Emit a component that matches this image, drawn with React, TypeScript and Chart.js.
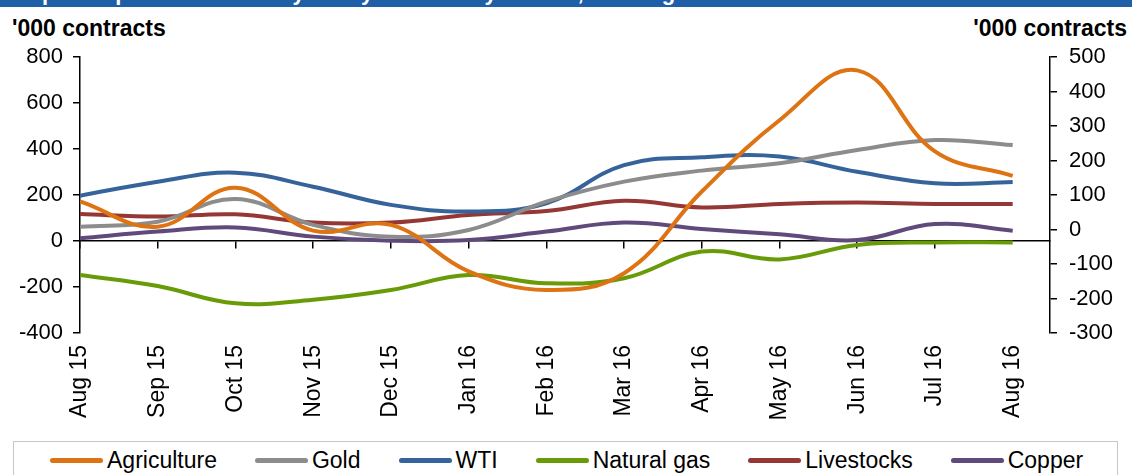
import React, { useEffect, useRef } from "react";
import { Chart, registerables } from "chart.js";

Chart.register(...registerables);

const months = ["Aug 15", "Sep 15", "Oct 15", "Nov 15", "Dec 15", "Jan 16", "Feb 16", "Mar 16", "Apr 16", "May 16", "Jun 16", "Jul 16", "Aug 16"];
const agriculture = [172, 62, 232, 45, 70, -132, -213, -140, 215, 525, 742, 390, 283];
const gold = [62, 84, 183, 70, 19, 48, 171, 258, 306, 338, 396, 439, 417];
const wti = [197, 258, 297, 236, 157, 128, 164, 330, 364, 367, 301, 251, 256];
const naturalGas = [-148, -196, -271, -255, -213, -148, -184, -162, -46, -80, -17, -6, -6];
const livestocks = [117, 106, 116, 80, 80, 113, 130, 175, 146, 161, 167, 161, 161];
const copper = [12, 41, 59, 19, 1, 4, 41, 80, 52, 29, 4, 74, 45];

const leftTicks = { min: -400, max: 800, step: 200 };
const rightTicks = { min: -300, max: 500, step: 100 };

const seriesNames = ["Agriculture", "Gold", "WTI", "Natural gas", "Livestocks", "Copper"];
const seriesColors = ["#DD7313", "#8C8C8C", "#36639A", "#699A08", "#953735", "#604A7B"];
const seriesValues = [agriculture, gold, wti, naturalGas, livestocks, copper];

const FONT = "'Liberation Sans', Arial, sans-serif";
const X_MAX = 12.48;

export default function App() {
  const ref = useRef<HTMLCanvasElement | null>(null);

  useEffect(() => {
    if (!ref.current) return;
    const intTicks = (s: any) => {
      s.ticks = s.ticks.filter((t: any) => Number.isInteger(t.value) && t.value >= 0 && t.value < months.length);
    };
    const chart = new Chart(ref.current, {
      type: "line",
      data: {
        datasets: seriesNames.map((name, i) => ({
          label: name,
          data: seriesValues[i].map((v, j) => ({ x: j, y: v })),
          borderColor: seriesColors[i],
          backgroundColor: seriesColors[i],
          borderWidth: 4,
          pointRadius: 0,
          tension: 0.4,
          fill: false,
          xAxisID: "x",
          yAxisID: "y",
        })),
      },
      options: {
        animation: false,
        responsive: false,
        maintainAspectRatio: false,
        layout: { padding: { top: 57, left: 0, right: 0, bottom: 0 } },
        plugins: { legend: { display: false }, tooltip: { enabled: false }, title: { display: false } },
        scales: {
          x: {
            type: "linear",
            min: 0,
            max: X_MAX,
            position: "bottom",
            afterBuildTicks: intTicks,
            afterFit: (s: any) => { s.height = 107; },
            grid: { display: false, drawTicks: false },
            border: { display: false },
            ticks: {
              stepSize: 1,
              autoSkip: false,
              minRotation: 90,
              maxRotation: 90,
              padding: 12,
              color: "#000",
              font: { family: FONT, size: 23 },
              callback: (v: any) => months[v as number] ?? "",
            },
          },
          x0: {
            type: "linear",
            axis: "x",
            min: 0,
            max: X_MAX,
            position: { y: 0 } as any,
            afterBuildTicks: intTicks,
            grid: { display: true, drawOnChartArea: false, drawTicks: true, tickLength: 7, color: "#000", lineWidth: 1.5 },
            border: { display: true, color: "#000", width: 1.5 },
            ticks: { display: false, stepSize: 1 },
          },
          y: {
            type: "linear",
            position: "left",
            min: leftTicks.min,
            max: leftTicks.max,
            afterFit: (s: any) => { s.width = 80; },
            grid: { display: true, drawOnChartArea: false, drawTicks: true, tickLength: 7, color: "#000", lineWidth: 1.5 },
            border: { display: true, color: "#000", width: 1.5 },
            ticks: { stepSize: leftTicks.step, padding: 10, color: "#000", font: { family: FONT, size: 22 } },
          },
          y1: {
            type: "linear",
            position: "right",
            min: rightTicks.min,
            max: rightTicks.max,
            afterFit: (s: any) => { s.width = 82; },
            grid: { display: true, drawOnChartArea: false, drawTicks: true, tickLength: 7, color: "#000", lineWidth: 1.5 },
            border: { display: true, color: "#000", width: 1.5 },
            ticks: { stepSize: rightTicks.step, padding: 12, color: "#000", font: { family: FONT, size: 22 } },
          },
        },
      },
    });
    return () => chart.destroy();
  }, []);

  return (
    <div style={{ position: "fixed", left: 0, top: 0, width: 1132, height: 475, background: "#fff", overflow: "hidden", fontFamily: FONT }}>
      <div style={{ position: "absolute", left: 0, top: 0, width: 1132, height: 7, background: "#1F5FA8", overflow: "hidden" }}>
        <div style={{ position: "absolute", left: 4, top: -18, fontSize: 22, lineHeight: "22px", fontWeight: "bold", color: "#fff", whiteSpace: "nowrap" }}>
          Graph 3: Speculative activity in key commodity futures, net long
        </div>
      </div>
      <div style={{ position: "absolute", left: 12, top: 15, fontSize: 23, lineHeight: "26px", fontWeight: "bold", color: "#000", whiteSpace: "nowrap" }}>
        '000 contracts
      </div>
      <div style={{ position: "absolute", right: 5, top: 15, fontSize: 23, lineHeight: "26px", fontWeight: "bold", color: "#000", whiteSpace: "nowrap" }}>
        '000 contracts
      </div>
      <canvas ref={ref} width={1132} height={440} style={{ position: "absolute", left: 0, top: 0, width: 1132, height: 440 }} />
      <div style={{ position: "absolute", left: 13, top: 441, width: 1105, height: 60, border: "1.5px solid #C8C8C8", boxSizing: "border-box" }}>
        <div style={{ position: "absolute", left: 36, top: 5, display: "flex", alignItems: "center", gap: 38, whiteSpace: "nowrap" }}>
          {seriesNames.map((name, i) => (
            <div key={name} style={{ display: "flex", alignItems: "center" }}>
              <span style={{ display: "inline-block", width: 53, height: 5, borderRadius: 3, background: seriesColors[i], marginRight: 4 }} />
              <span style={{ fontSize: 23, lineHeight: "26px", color: "#000" }}>{name}</span>
            </div>
          ))}
        </div>
      </div>
    </div>
  );
}
